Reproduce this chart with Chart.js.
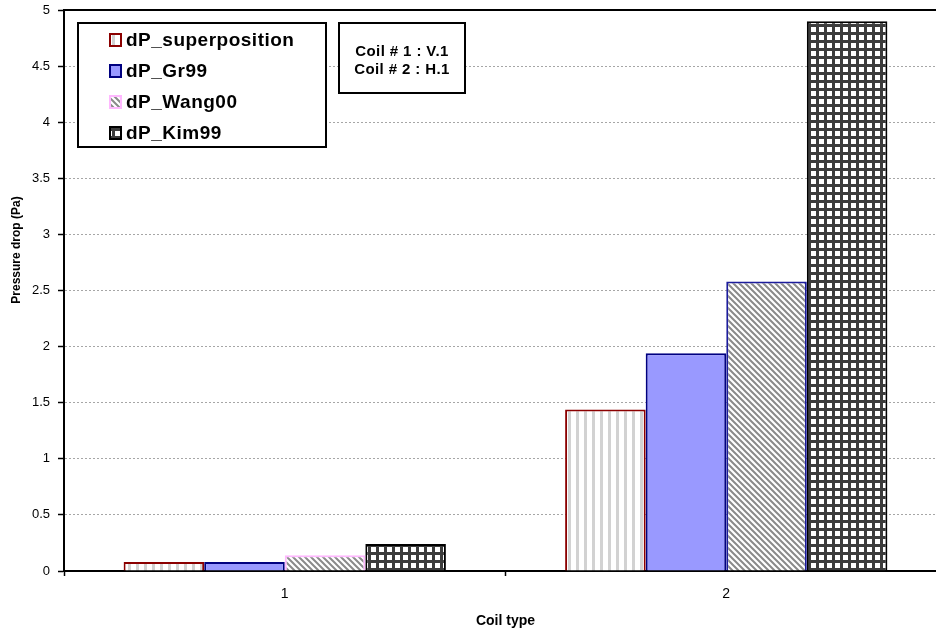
<!DOCTYPE html>
<html>
<head>
<meta charset="utf-8">
<script src="https://cdn.jsdelivr.net/npm/chart.js@4.4.1/dist/chart.umd.min.js"></script>
<style>
  html, body { margin: 0; padding: 0; background: #fff; overflow: hidden; }
  #wrap { width: 936px; height: 632px; overflow: hidden; }
</style>
</head>
<body>
<div id="wrap"><canvas id="myChart" width="950" height="632"></canvas></div>
<script>
// data
const coilTypes = ["1", "2"];
const dpSuperposition = [0.08, 1.44];
const dpGr99 = [0.08, 1.94];
const dpWang00 = [0.14, 2.58];
const dpKim99 = [0.24, 4.9];
const yTicks = [0, 0.5, 1, 1.5, 2, 2.5, 3, 3.5, 4, 4.5, 5];
const notes = ["Coil # 1 : V.1", "Coil # 2 : H.1"];

const FONT = "'Liberation Sans', Arial, sans-serif";
Chart.defaults.font.family = FONT;
Chart.defaults.color = "#000";

// little tiles for the hatched fills
function makePattern(w, h, draw) {
    const c = document.createElement("canvas");
    c.width = w; c.height = h;
    const g = c.getContext("2d");
    g.fillStyle = "#fff";
    g.fillRect(0, 0, w, h);
    draw(g);
    return document.getElementById("myChart").getContext("2d").createPattern(c, "repeat");
}

const vStripes = makePattern(8, 8, (g) => {
    g.fillStyle = "#d2d2d2";
    g.fillRect(0, 0, 3, 8);
});
const diagStripes = makePattern(6, 6, (g) => {
    g.strokeStyle = "#8a8a8a";
    g.lineWidth = 2;
    g.beginPath();
    g.moveTo(-1, -1); g.lineTo(7, 7);
    g.moveTo(-4, 2); g.lineTo(2, 8);
    g.moveTo(2, -4); g.lineTo(8, 2);
    g.stroke();
});
const grid = makePattern(8, 8, (g) => {
    g.fillStyle = "#3c3c3c";
    g.fillRect(0, 0, 3, 8);
    g.fillRect(0, 0, 8, 3);
});

// legend box, note box, y title, top frame line
const extras = {
    id: "extras",
    afterDraw(chart) {
        const ctx = chart.ctx;
        const area = chart.chartArea;
        ctx.save();

        // top frame line
        ctx.strokeStyle = "#000";
        ctx.lineWidth = 2;
        ctx.beginPath();
        ctx.moveTo(area.left - 1, area.top);
        ctx.lineTo(chart.width, area.top);
        ctx.stroke();

        // legend
        ctx.fillStyle = "#fff";
        ctx.fillRect(78, 23, 248, 124);
        ctx.strokeRect(78, 23, 248, 124);
        ctx.font = "bold 19px " + FONT;
        ctx.textBaseline = "middle";
        ctx.letterSpacing = "0.5px";
        chart.data.datasets.forEach((ds, i) => {
            const y = 40 + i * 31;
            ctx.fillStyle = ds.legendFill;
            ctx.fillRect(110, y - 6, 11, 12);
            ctx.strokeStyle = ds.legendBorder;
            ctx.lineWidth = 2;
            ctx.strokeRect(110, y - 6, 11, 12);
            ctx.fillStyle = "#000";
            ctx.fillText(ds.label, 126, y + 1);
        });

        // note box
        ctx.fillStyle = "#fff";
        ctx.strokeStyle = "#000";
        ctx.lineWidth = 2;
        ctx.fillRect(339, 23, 126, 70);
        ctx.strokeRect(339, 23, 126, 70);
        ctx.fillStyle = "#000";
        ctx.font = "bold 15px " + FONT;
        ctx.textAlign = "center";
        ctx.letterSpacing = "0.4px";
        notes.forEach((t, i) => ctx.fillText(t, 402, 52 + i * 18));
        ctx.letterSpacing = "0px";

        // y axis title
        ctx.translate(17, 250);
        ctx.rotate(-Math.PI / 2);
        ctx.font = "bold 12px " + FONT;
        ctx.fillText("Pressure drop (Pa)", 0, 0);
        ctx.restore();
    }
};

const ctx = document.getElementById("myChart").getContext("2d");

const chart = new Chart(ctx, {
    type: "bar",
    data: {
        labels: coilTypes,
        datasets: [
            {
                label: "dP_superposition",
                data: dpSuperposition,
                backgroundColor: vStripes,
                borderColor: "#8b0000",
                legendFill: vStripes,
                legendBorder: "#8b0000"
            },
            {
                label: "dP_Gr99",
                data: dpGr99,
                backgroundColor: "#9999ff",
                borderColor: "#000080",
                legendFill: "#9999ff",
                legendBorder: "#000080"
            },
            {
                label: "dP_Wang00",
                data: dpWang00,
                backgroundColor: diagStripes,
                borderColor: ["#ffb8ff", "#1c1c9c"],
                legendFill: diagStripes,
                legendBorder: "#ffb8ff"
            },
            {
                label: "dP_Kim99",
                data: dpKim99,
                backgroundColor: grid,
                borderColor: "#000",
                legendFill: grid,
                legendBorder: "#000"
            }
        ]
    },
    options: {
        responsive: false,
        animation: false,
        devicePixelRatio: 1,
        layout: { padding: { top: 10, right: 3, left: 0, bottom: 0 } },
        datasets: {
            bar: {
                borderWidth: 2,
                categoryPercentage: 0.73,
                barPercentage: 1
            }
        },
        plugins: {
            legend: { display: false },
            tooltip: { enabled: false }
        },
        scales: {
            x: {
                offset: true,
                afterFit: (s) => { s.height = 61; s.paddingLeft = 0; s.paddingRight = 0; },
                grid: {
                    offset: true,
                    drawOnChartArea: false,
                    drawTicks: true,
                    tickLength: 5,
                    tickColor: "#000",
                    tickWidth: 1.5
                },
                border: { color: "#000", width: 2 },
                ticks: { font: { size: 14 }, padding: 10, color: "#000" },
                title: {
                    display: true,
                    text: "Coil type",
                    font: { size: 14, weight: "bold" },
                    padding: { top: 4, bottom: 2 },
                    color: "#000"
                }
            },
            y: {
                min: 0,
                max: 5,
                afterFit: (s) => { s.width = 64; s.paddingTop = 0; s.paddingBottom = 0; },
                afterBuildTicks: (s) => { s.ticks = yTicks.map((v) => ({ value: v })); },
                grid: {
                    color: (c) => (c.tick && (c.tick.value === 0 || c.tick.value === 5)) ? "rgba(0,0,0,0)" : "#a6a6a6",
                    lineWidth: 1,
                    tickLength: 6,
                    tickColor: "#000",
                    tickWidth: 1.5
                },
                border: { color: "#000", width: 2, dash: [2, 2] },
                ticks: {
                    font: { size: 13 },
                    padding: 8,
                    color: "#000",
                    callback: (v) => String(v)
                }
            }
        }
    },
    plugins: [extras]
});
</script>
</body>
</html>
